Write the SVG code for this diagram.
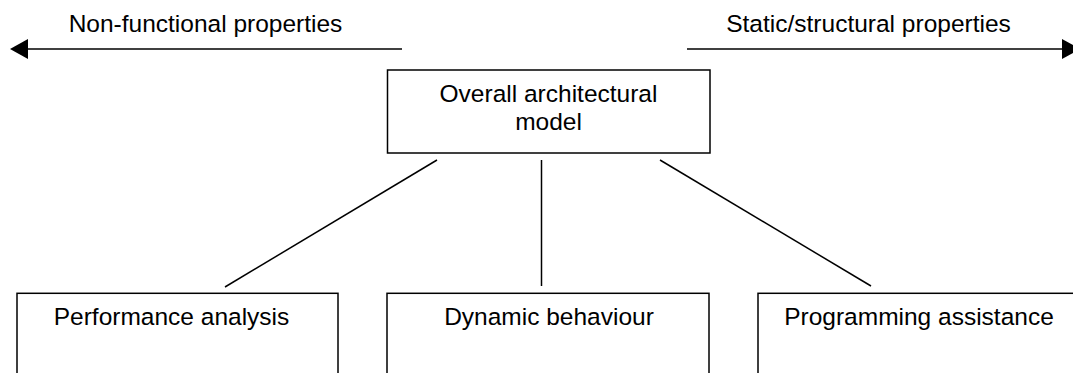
<svg xmlns="http://www.w3.org/2000/svg" width="1073" height="373" viewBox="0 0 1073 373">
<defs>
<style>
.box{fill:#fff;stroke:#000;stroke-width:1.5}
.ln{stroke:#000;stroke-width:1.5;fill:none}
.t{font-family:"Liberation Sans",Arial,sans-serif;font-size:24.5px;fill:#000;text-anchor:middle}
</style>
<marker id="ah" viewBox="0 0 18 20" refX="0" refY="10" markerWidth="18" markerHeight="20" markerUnits="userSpaceOnUse" orient="auto">
<path d="M0,0 L18,10 L0,20 Z" fill="#000"/>
</marker>
</defs>
<rect width="1073" height="373" fill="#fff"/>
<g id="connectors">
<line class="ln" x1="402" y1="49" x2="28" y2="49" marker-end="url(#ah)"/>
<line class="ln" x1="687" y1="49" x2="1062" y2="49" marker-end="url(#ah)"/>
<line class="ln" x1="437" y1="160" x2="225" y2="287"/>
<line class="ln" x1="541.5" y1="160" x2="541.5" y2="286"/>
<line class="ln" x1="660" y1="160" x2="871" y2="286"/>
</g>
<g id="label-nonfunctional">
<text class="t" x="205.5" y="32">Non-functional properties</text>
</g>
<g id="label-static">
<text class="t" x="868.5" y="32">Static/structural properties</text>
</g>
<g id="node-overall">
<rect class="box" x="387.5" y="70" width="322.5" height="83"/>
<text class="t" x="548.5" y="101.5">Overall architectural</text>
<text class="t" x="548.5" y="130">model</text>
</g>
<g id="node-performance">
<rect class="box" x="17" y="293.3" width="321" height="100"/>
<text class="t" x="171.5" y="325">Performance analysis</text>
</g>
<g id="node-dynamic">
<rect class="box" x="387" y="293.3" width="322" height="100"/>
<text class="t" x="549" y="325">Dynamic behaviour</text>
</g>
<g id="node-programming">
<rect class="box" x="758" y="293.3" width="330" height="100"/>
<text class="t" x="919" y="325">Programming assistance</text>
</g>
</svg>
